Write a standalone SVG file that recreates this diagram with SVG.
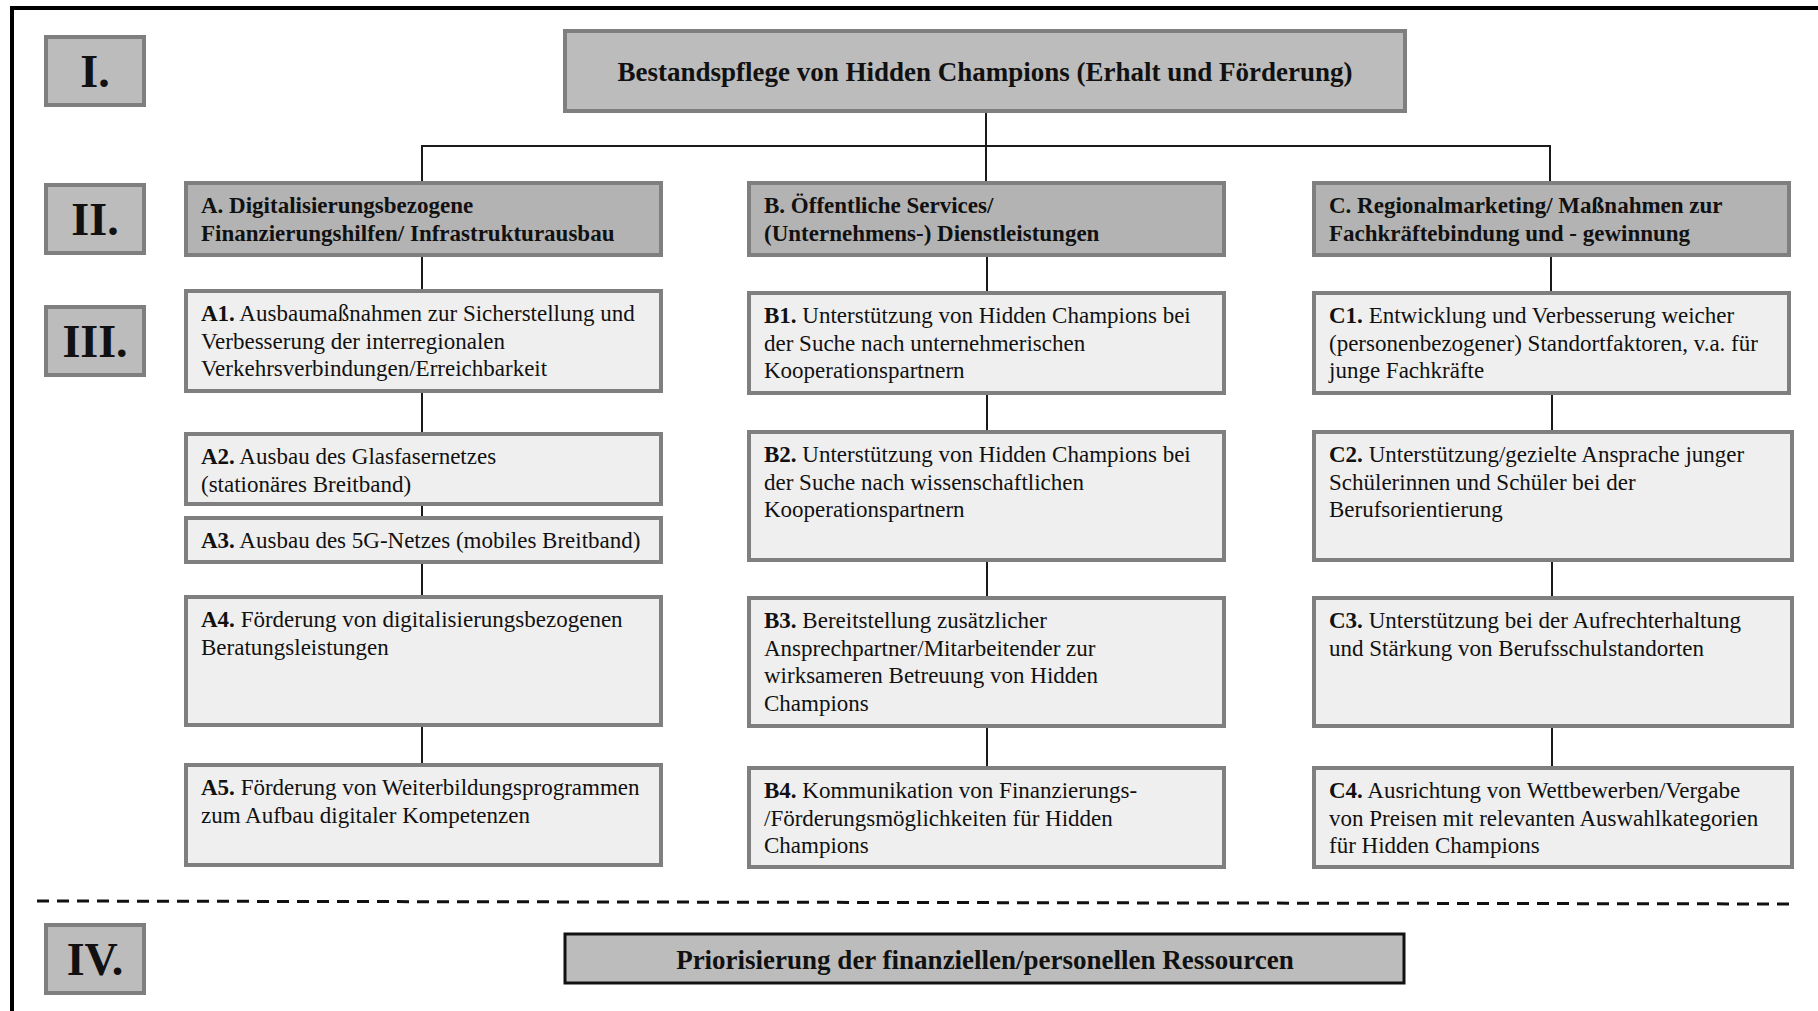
<svg xmlns="http://www.w3.org/2000/svg" width="1818" height="1011" viewBox="0 0 1818 1011">
<style>
.num{fill:#bcbcbc;stroke:#7f7f7f;stroke-width:4}
.hdr{fill:#b3b3b3;stroke:#7f7f7f;stroke-width:4}
.item{fill:#efefef;stroke:#7f7f7f;stroke-width:4}
.top{fill:#bcbcbc;stroke:#7f7f7f;stroke-width:4}
.bot{fill:#bcbcbc;stroke:#111;stroke-width:3}
text{font-family:"Liberation Serif","Times New Roman",serif;fill:#111}
.t{font-size:23px}
.b{font-weight:bold}
.title{font-size:27px;font-weight:bold;text-anchor:middle}
.roman{font-size:46px;font-weight:bold;text-anchor:middle}
.conn{stroke:#1a1a1a;stroke-width:2;fill:none}
.frame{stroke:#000;stroke-width:4;fill:none}
.dash{stroke:#111;stroke-width:3;stroke-dasharray:12 8;fill:none}
</style>
<rect width="1818" height="1011" fill="#fff"/>
<path class="frame" d="M12,1011 V8 H1818"/>
<path class="dash" d="M37,901 L1797,904"/>

<g id="connectors">
<path class="conn" d="M986,111 V183"/>
<path class="conn" d="M422,183 V146 H1550 V183"/>
<path class="conn" d="M422,255 V291 M422,391 V434 M422,504 V518 M422,562 V597 M422,725 V765"/>
<path class="conn" d="M987,255 V293 M987,393 V432 M987,560 V598 M987,726 V768"/>
<path class="conn" d="M1551,255 V293 M1552,393 V432 M1552,560 V598 M1552,726 V768"/>
</g>

<g id="level-I"><rect class="num" x="46" y="37" width="98" height="68"/><text class="roman" x="95" y="87">I.</text></g>
<g id="level-II"><rect class="num" x="46" y="185" width="98" height="68"/><text class="roman" x="95" y="235">II.</text></g>
<g id="level-III"><rect class="num" x="46" y="307" width="98" height="68"/><text class="roman" x="95" y="357">III.</text></g>
<g id="level-IV"><rect class="num" x="46" y="925" width="98" height="68"/><text class="roman" x="95" y="975">IV.</text></g>

<g id="root"><rect class="top" x="565" y="31" width="840" height="80"/><text class="title" x="985" y="81">Bestandspflege von Hidden Champions (Erhalt und Förderung)</text></g>

<g id="A"><rect class="hdr" x="186" y="183" width="475" height="72"/><text class="t b" x="201" y="213">A. Digitalisierungsbezogene<tspan x="201" dy="27.7">Finanzierungshilfen/ Infrastrukturausbau</tspan></text></g>
<g id="B"><rect class="hdr" x="749" y="183" width="475" height="72"/><text class="t b" x="764" y="213">B. Öffentliche Services/<tspan x="764" dy="27.7">(Unternehmens-) Dienstleistungen</tspan></text></g>
<g id="C"><rect class="hdr" x="1314" y="183" width="475" height="72"/><text class="t b" x="1329" y="213">C. Regionalmarketing/ Maßnahmen zur<tspan x="1329" dy="27.7">Fachkräftebindung und - gewinnung</tspan></text></g>

<g id="A1"><rect class="item" x="186" y="291" width="475" height="100"/><text class="t" x="201" y="321"><tspan class="b">A1.</tspan> Ausbaumaßnahmen zur Sicherstellung und<tspan x="201" dy="27.7">Verbesserung der interregionalen</tspan><tspan x="201" dy="27.7">Verkehrsverbindungen/Erreichbarkeit</tspan></text></g>
<g id="A2"><rect class="item" x="186" y="434" width="475" height="70"/><text class="t" x="201" y="464"><tspan class="b">A2.</tspan> Ausbau des Glasfasernetzes<tspan x="201" dy="27.7">(stationäres Breitband)</tspan></text></g>
<g id="A3"><rect class="item" x="186" y="518" width="475" height="44"/><text class="t" x="201" y="548"><tspan class="b">A3.</tspan> Ausbau des 5G-Netzes (mobiles Breitband)</text></g>
<g id="A4"><rect class="item" x="186" y="597" width="475" height="128"/><text class="t" x="201" y="627"><tspan class="b">A4.</tspan> Förderung von digitalisierungsbezogenen<tspan x="201" dy="27.7">Beratungsleistungen</tspan></text></g>
<g id="A5"><rect class="item" x="186" y="765" width="475" height="100"/><text class="t" x="201" y="795"><tspan class="b">A5.</tspan> Förderung von Weiterbildungsprogrammen<tspan x="201" dy="27.7">zum Aufbau digitaler Kompetenzen</tspan></text></g>

<g id="B1"><rect class="item" x="749" y="293" width="475" height="100"/><text class="t" x="764" y="323"><tspan class="b">B1.</tspan> Unterstützung von Hidden Champions bei<tspan x="764" dy="27.7">der Suche nach unternehmerischen</tspan><tspan x="764" dy="27.7">Kooperationspartnern</tspan></text></g>
<g id="B2"><rect class="item" x="749" y="432" width="475" height="128"/><text class="t" x="764" y="462"><tspan class="b">B2.</tspan> Unterstützung von Hidden Champions bei<tspan x="764" dy="27.7">der Suche nach wissenschaftlichen</tspan><tspan x="764" dy="27.7">Kooperationspartnern</tspan></text></g>
<g id="B3"><rect class="item" x="749" y="598" width="475" height="128"/><text class="t" x="764" y="628"><tspan class="b">B3.</tspan> Bereitstellung zusätzlicher<tspan x="764" dy="27.7">Ansprechpartner/Mitarbeitender zur</tspan><tspan x="764" dy="27.7">wirksameren Betreuung von Hidden</tspan><tspan x="764" dy="27.7">Champions</tspan></text></g>
<g id="B4"><rect class="item" x="749" y="768" width="475" height="99"/><text class="t" x="764" y="798"><tspan class="b">B4.</tspan> Kommunikation von Finanzierungs-<tspan x="764" dy="27.7">/Förderungsmöglichkeiten für Hidden</tspan><tspan x="764" dy="27.7">Champions</tspan></text></g>

<g id="C1"><rect class="item" x="1314" y="293" width="475" height="100"/><text class="t" x="1329" y="323"><tspan class="b">C1.</tspan> Entwicklung und Verbesserung weicher<tspan x="1329" dy="27.7">(personenbezogener) Standortfaktoren, v.a. für</tspan><tspan x="1329" dy="27.7">junge Fachkräfte</tspan></text></g>
<g id="C2"><rect class="item" x="1314" y="432" width="478" height="128"/><text class="t" x="1329" y="462"><tspan class="b">C2.</tspan> Unterstützung/gezielte Ansprache junger<tspan x="1329" dy="27.7">Schülerinnen und Schüler bei der</tspan><tspan x="1329" dy="27.7">Berufsorientierung</tspan></text></g>
<g id="C3"><rect class="item" x="1314" y="598" width="478" height="128"/><text class="t" x="1329" y="628"><tspan class="b">C3.</tspan> Unterstützung bei der Aufrechterhaltung<tspan x="1329" dy="27.7">und Stärkung von Berufsschulstandorten</tspan></text></g>
<g id="C4"><rect class="item" x="1314" y="768" width="478" height="99"/><text class="t" x="1329" y="798"><tspan class="b">C4.</tspan> Ausrichtung von Wettbewerben/Vergabe<tspan x="1329" dy="27.7">von Preisen mit relevanten Auswahlkategorien</tspan><tspan x="1329" dy="27.7">für Hidden Champions</tspan></text></g>

<g id="IV-node"><rect class="bot" x="565" y="934" width="839" height="49"/><text class="title" x="985" y="969">Priorisierung der finanziellen/personellen Ressourcen</text></g>
</svg>
